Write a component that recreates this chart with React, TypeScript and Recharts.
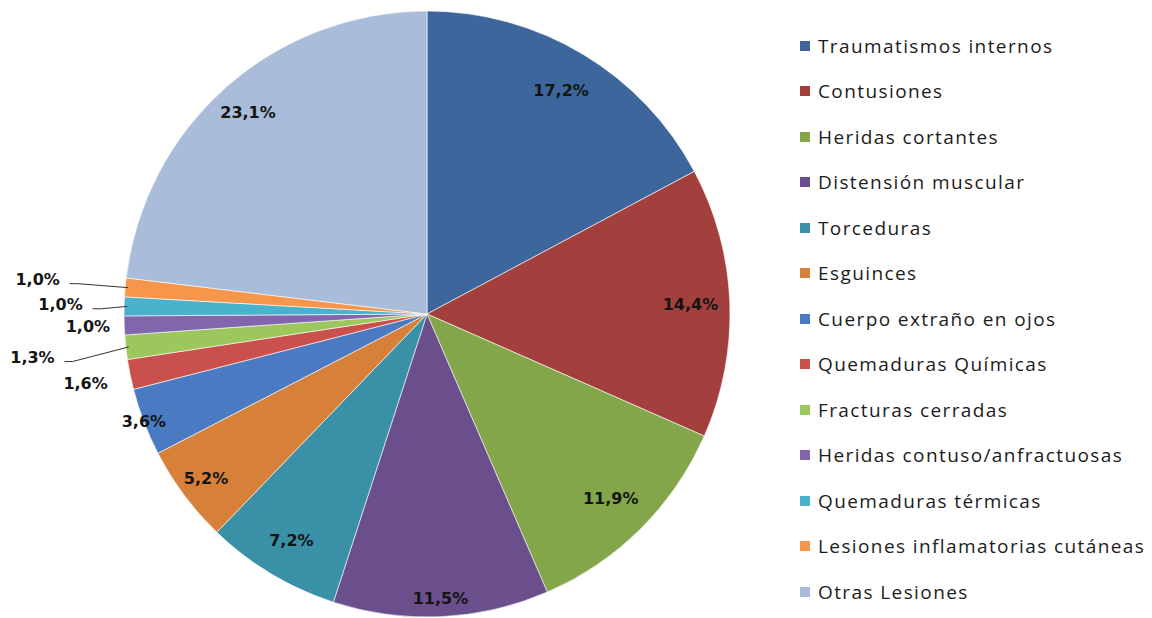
import { Cell, Legend, Pie, PieChart } from 'recharts'

// tipos de lesión, en el orden del gráfico (sentido horario desde las 12)
const categories = [
  'Traumatismos internos',
  'Contusiones',
  'Heridas cortantes',
  'Distensión muscular',
  'Torceduras',
  'Esguinces',
  'Cuerpo extraño en ojos',
  'Quemaduras Químicas',
  'Fracturas cerradas',
  'Heridas contuso/anfractuosas',
  'Quemaduras térmicas',
  'Lesiones inflamatorias cutáneas',
  'Otras Lesiones',
]

// porcentaje de cada tipo
const shares = [17.2, 14.4, 11.9, 11.5, 7.2, 5.2, 3.6, 1.6, 1.3, 1.0, 1.0, 1.0, 23.1]

const colors = [
  '#3d679c', '#a3403d', '#84a64b', '#6a4f8c', '#3a90a7', '#d7803a',
  '#4a7bc2', '#c9504d', '#9dc65c', '#8266ad', '#4ab2cd', '#f5964a', '#a9bcd9',
]

// distancia de cada etiqueta al centro, en fracciones del radio
const labelRadius = [0.86, 0.87, 0.86, 0.94, 0.87, 0.91, 1.0, 1.15, 1.31, 1.12, 1.21, 1.29, 0.89]
const withLeader = [8, 10, 11]

const data = categories.map((name, i) => ({ name, value: shares[i] }))
const fmt = (v: number) => `${v.toFixed(1).replace('.', ',')}%`
const RAD = Math.PI / 180

function renderLabel(props: any) {
  const { cx, cy, midAngle, outerRadius, index, value } = props
  const f = labelRadius[index]
  const x = cx + outerRadius * f * Math.cos(-midAngle * RAD)
  const y = cy + outerRadius * f * Math.sin(-midAngle * RAD)
  const ex = cx + outerRadius * 0.99 * Math.cos(-midAngle * RAD)
  const ey = cy + outerRadius * 0.99 * Math.sin(-midAngle * RAD)
  return (
    <g key={`lbl-${index}`}>
      {withLeader.includes(index) && (
        <polyline
          points={`${x + 32},${y + 4} ${x + 40},${y + 4} ${ex},${ey}`}
          fill="none"
          stroke="#333"
          strokeWidth={1}
        />
      )}
      <text
        x={x}
        y={y}
        textAnchor="middle"
        dominantBaseline="central"
        fontFamily="DejaVu Sans"
        fontWeight="bold"
        fontSize={16}
        fill="#141414"
      >
        {fmt(value)}
      </text>
    </g>
  )
}

function LegendList() {
  return (
    <div>
      {categories.map((c, i) => (
        <div key={c} style={{ height: 45.5, display: 'flex', alignItems: 'center' }}>
          <span style={{ width: 10, height: 10, background: colors[i], marginRight: 8, flexShrink: 0 }} />
          <span style={{ fontFamily: 'Open Sans', fontSize: 19, letterSpacing: 1.4, color: '#1c1c1c', whiteSpace: 'nowrap' }}>
            {c}
          </span>
        </div>
      ))}
    </div>
  )
}

export default function App() {
  return (
    <div style={{ position: 'absolute', left: 0, top: 0, width: 1152, height: 618, background: '#fff' }}>
      <PieChart width={1152} height={618} margin={{ top: 0, right: 0, bottom: 0, left: 0 }}>
        <Pie
          data={data}
          dataKey="value"
          nameKey="name"
          cx={427}
          cy={314}
          outerRadius={303}
          startAngle={90}
          endAngle={-270}
          stroke="#ffffff"
          strokeWidth={0.6}
          label={renderLabel}
          labelLine={false}
          isAnimationActive={false}
        >
          {data.map((d, i) => (
            <Cell key={d.name} fill={colors[i]} />
          ))}
        </Pie>
        <Legend
          content={() => <LegendList />}
          wrapperStyle={{ position: 'absolute', left: 800, top: 23, width: 350 }}
        />
      </PieChart>
    </div>
  )
}
